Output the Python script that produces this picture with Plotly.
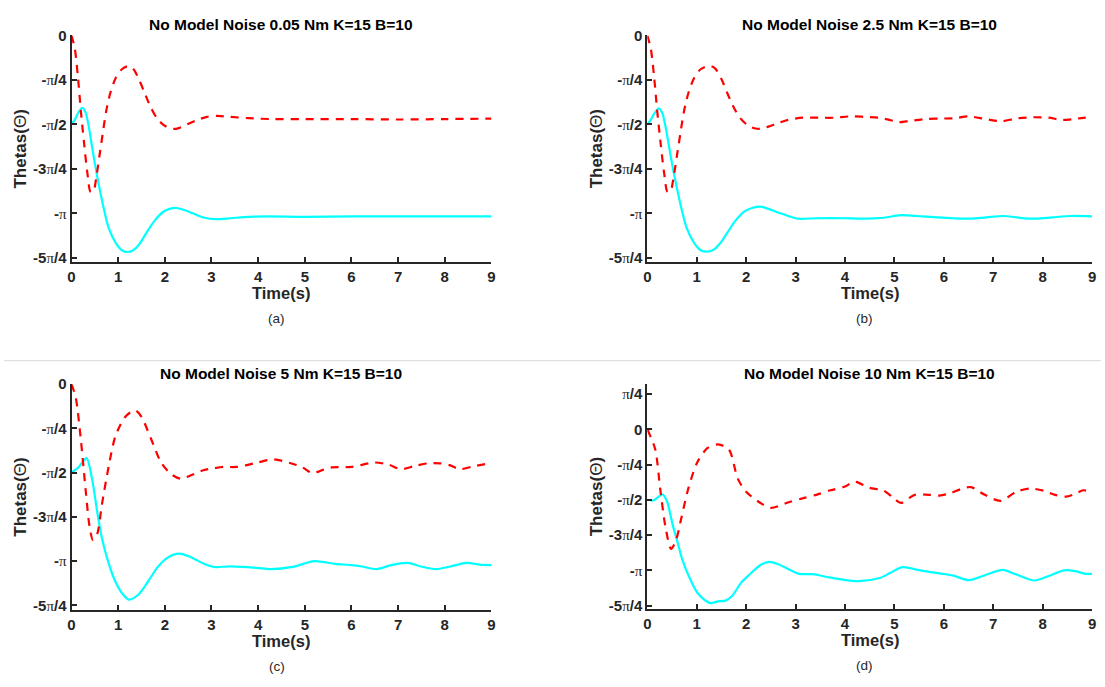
import numpy as np
import plotly.graph_objects as go

W, H = 1105, 687
Q = np.pi / 4  # data below are read in units of pi/4 rad

# ---------------- Panel (a): noise 0.05 Nm ----------------
t_red_a = [0, 0.07, 0.14, 0.2, 0.27, 0.34, 0.41, 0.47, 0.53, 0.6, 0.67, 0.74, 0.83, 0.95, 1.08, 1.22,
           1.33, 1.45, 1.57, 1.7, 1.83, 1.97, 2.1, 2.24, 2.38, 2.52, 2.7, 2.9, 3.12, 3.4, 3.8, 4.3, 5, 6, 7, 8, 9]
q_red_a = [0, -0.29, -0.96, -1.69, -2.43, -3.09, -3.52, -3.5, -3.2, -2.7, -2.2, -1.72, -1.3, -0.95, -0.76, -0.69,
           -0.76, -1.0, -1.3, -1.62, -1.86, -2.01, -2.08, -2.1, -2.05, -1.98, -1.9, -1.83, -1.81, -1.83, -1.86, -1.88,
           -1.88, -1.88, -1.89, -1.88, -1.87]
t_cyan_a = [0, 0.07, 0.14, 0.23, 0.3, 0.37, 0.44, 0.51, 0.58, 0.68, 0.8, 0.95, 1.08, 1.2, 1.32, 1.45, 1.58,
            1.77, 1.96, 2.1, 2.25, 2.4, 2.6, 2.85, 3.1, 3.4, 3.8, 4.2, 5, 6, 7, 8, 9]
q_cyan_a = [-2.0, -1.9, -1.75, -1.63, -1.73, -2.05, -2.5, -2.94, -3.33, -3.84, -4.34, -4.67, -4.83, -4.87, -4.83,
            -4.7, -4.48, -4.18, -3.97, -3.9, -3.88, -3.92, -4.0, -4.1, -4.13, -4.11, -4.08, -4.07, -4.08, -4.07,
            -4.07, -4.07, -4.07]

# ---------------- Panel (b): noise 2.5 Nm ----------------
t_red_b = [0, 0.07, 0.14, 0.2, 0.27, 0.34, 0.41, 0.47, 0.53, 0.6, 0.67, 0.74, 0.83, 0.95, 1.08, 1.25, 1.37, 1.5,
           1.62, 1.75, 1.88, 2.02, 2.15, 2.29, 2.45, 2.65, 2.85, 3.15, 3.48, 3.78, 4.1, 4.38, 4.68, 4.98, 5.1, 5.32,
           5.62, 5.92, 6.22, 6.5, 6.85, 7.17, 7.45, 7.78, 8.12, 8.4, 8.7, 9]
q_red_b = [0, -0.29, -0.96, -1.69, -2.43, -3.09, -3.52, -3.5, -3.2, -2.7, -2.2, -1.72, -1.3, -0.95, -0.76, -0.68,
           -0.74, -0.98, -1.3, -1.62, -1.86, -2.01, -2.08, -2.1, -2.05, -1.97, -1.9, -1.85, -1.85, -1.85, -1.82,
           -1.83, -1.85, -1.92, -1.95, -1.92, -1.88, -1.87, -1.86, -1.82, -1.88, -1.93, -1.87, -1.84, -1.85, -1.9,
           -1.87, -1.83]
t_cyan_b = [0, 0.07, 0.14, 0.23, 0.3, 0.37, 0.44, 0.51, 0.58, 0.68, 0.8, 0.95, 1.08, 1.22, 1.34, 1.47, 1.6, 1.78,
            1.96, 2.12, 2.29, 2.45, 2.65, 2.85, 3.05, 3.45, 3.98, 4.32, 4.79, 5.12, 5.45, 5.86, 6.2, 6.53, 6.86, 7.2,
            7.54, 7.87, 8.2, 8.57, 9]
q_cyan_b = [-2.0, -1.9, -1.76, -1.64, -1.74, -2.06, -2.5, -2.94, -3.33, -3.84, -4.34, -4.67, -4.83, -4.86, -4.82,
            -4.68, -4.47, -4.17, -3.96, -3.88, -3.85, -3.9, -3.98, -4.06, -4.12, -4.11, -4.11, -4.12, -4.1, -4.04,
            -4.06, -4.09, -4.11, -4.12, -4.09, -4.06, -4.1, -4.12, -4.09, -4.06, -4.07]

# ---------------- Panel (c): noise 5 Nm ----------------
t_red_c = [0, 0.09, 0.2, 0.3, 0.39, 0.46, 0.55, 0.65, 0.8, 0.94, 1.15, 1.36, 1.5, 1.71, 1.92, 2.13, 2.35, 2.56,
           2.84, 3.05, 3.26, 3.54, 3.96, 4.32, 4.68, 4.95, 5.16, 5.4, 5.58, 6.0, 6.5, 6.8, 7.06, 7.35, 7.63, 7.9,
           8.1, 8.33, 8.6, 9]
q_red_c = [0, -0.3, -1.25, -2.36, -3.24, -3.52, -3.39, -2.73, -1.84, -1.18, -0.74, -0.59, -0.74, -1.25, -1.77,
           -2.03, -2.14, -2.06, -1.94, -1.9, -1.87, -1.87, -1.78, -1.70, -1.78, -1.88, -2.01, -1.93, -1.88, -1.87,
           -1.77, -1.82, -1.92, -1.85, -1.79, -1.79, -1.83, -1.92, -1.86, -1.78]
t_cyan_c = [0, 0.15, 0.32, 0.44, 0.55, 0.65, 0.8, 0.94, 1.08, 1.23, 1.43, 1.64, 1.85, 2.06, 2.31, 2.56, 2.84,
            3.05, 3.4, 3.96, 4.28, 4.74, 5.2, 5.65, 6.0, 6.22, 6.54, 6.85, 7.2, 7.49, 7.8, 8.12, 8.47, 8.75, 9]
q_cyan_c = [-1.99, -1.88, -1.67, -2.14, -2.88, -3.47, -4.06, -4.46, -4.72, -4.87, -4.76, -4.46, -4.13, -3.92,
            -3.83, -3.91, -4.06, -4.13, -4.12, -4.15, -4.18, -4.13, -4.0, -4.06, -4.09, -4.12, -4.18, -4.09, -4.04,
            -4.12, -4.18, -4.12, -4.04, -4.08, -4.09]

# ---------------- Panel (d): noise 10 Nm ----------------
t_red_d = [0, 0.16, 0.26, 0.37, 0.48, 0.58, 0.69, 0.83, 1.01, 1.22, 1.43, 1.65, 1.83, 2.0, 2.29, 2.5, 2.86, 3.14,
           3.42, 3.71, 3.99, 4.2, 4.49, 4.77, 4.99, 5.13, 5.41, 5.7, 5.91, 6.12, 6.34, 6.55, 6.83, 7.15, 7.47, 7.75,
           8.04, 8.25, 8.47, 8.68, 8.82, 9]
q_red_d = [0, -0.57, -1.68, -2.79, -3.39, -3.15, -2.51, -1.68, -0.94, -0.53, -0.43, -0.57, -1.4, -1.77, -2.09,
           -2.23, -2.07, -1.96, -1.86, -1.73, -1.63, -1.49, -1.66, -1.73, -1.96, -2.09, -1.86, -1.86, -1.88, -1.82,
           -1.7, -1.64, -1.86, -2.03, -1.77, -1.68, -1.75, -1.86, -1.91, -1.82, -1.73, -1.79]
t_cyan_d = [0, 0.12, 0.23, 0.31, 0.4, 0.51, 0.62, 0.72, 0.87, 1.01, 1.15, 1.28, 1.43, 1.58, 1.72, 1.9, 2.07, 2.29,
            2.46, 2.64, 2.86, 3.07, 3.35, 3.64, 3.92, 4.28, 4.7, 4.91, 5.16, 5.48, 5.77, 5.98, 6.19, 6.51, 6.83, 7.19,
            7.47, 7.83, 8.11, 8.43, 8.68, 8.86, 9]
q_cyan_d = [-2.0, -2.02, -1.91, -1.85, -2.05, -2.69, -3.25, -3.75, -4.26, -4.63, -4.83, -4.93, -4.88, -4.86, -4.72,
            -4.35, -4.12, -3.85, -3.76, -3.82, -3.97, -4.1, -4.11, -4.19, -4.26, -4.31, -4.22, -4.08, -3.91, -3.99,
            -4.06, -4.1, -4.15, -4.28, -4.14, -3.99, -4.12, -4.29, -4.17, -4.0, -4.03, -4.1, -4.1]

titles = ["No Model Noise 0.05 Nm K=15 B=10", "No Model Noise 2.5 Nm K=15 B=10",
          "No Model Noise 5 Nm K=15 B=10", "No Model Noise 10 Nm K=15 B=10"]
captions = ["(a)", "(b)", "(c)", "(d)"]
x_ticks = [0, 1, 2, 3, 4, 5, 6, 7, 8, 9]
y_tick_q = [-5, -4, -3, -2, -1, 0, 1]
PI = '<span style="font-family:Liberation Serif;font-weight:normal">π</span>'
y_tick_text = ["<b>-5</b>" + PI + "<b>/4</b>", "<b>-</b>" + PI, "<b>-3</b>" + PI + "<b>/4</b>",
               "<b>-</b>" + PI + "<b>/2</b>", "<b>-</b>" + PI + "<b>/4</b>", "<b>0</b>", PI + "<b>/4</b>"]

panels = [
    (t_red_a, q_red_a, t_cyan_a, q_cyan_a),
    (t_red_b, q_red_b, t_cyan_b, q_cyan_b),
    (t_red_c, q_red_c, t_cyan_c, q_cyan_c),
    (t_red_d, q_red_d, t_cyan_d, q_cyan_d),
]

# layout geometry in pixels: (left, right, top, bottom) of plot area, y range
geom = [
    (68, 491, 27, 258.2, [-4, 0]),
    (648, 1096, 27, 258.2, [-4, 0]),
    (68, 491, 383, 613, [-4, 0]),
    (648, 1096, 383.2, 612.3, [-4, 1]),
]

TXT = "#262626"
fig = go.Figure()
layout = dict(width=W, height=H, margin=dict(l=0, r=0, t=0, b=0), paper_bgcolor="white",
              plot_bgcolor="white", showlegend=False, annotations=[], shapes=[])

for i, ((tr, qr, tc, qc), (l, r, tp, bt, yr), title, cap) in enumerate(zip(panels, geom, titles, captions)):
    n = "" if i == 0 else str(i + 1)
    xa, ya = "x" + n, "y" + n
    fig.add_trace(go.Scatter(x=tc, y=np.array(qc) * Q, mode="lines", xaxis=xa, yaxis=ya,
                             line=dict(color="#00FFFF", width=2.2, shape="spline", smoothing=0.8)))
    fig.add_trace(go.Scatter(x=tr, y=np.array(qr) * Q, mode="lines", xaxis=xa, yaxis=ya,
                             line=dict(color="#FF0000", width=2.2, dash="8px,7px", shape="spline", smoothing=0.8)))
    ticks = [k for k in y_tick_q if yr[0] <= k * Q <= yr[1]]
    ttext = [y_tick_text[y_tick_q.index(k)] for k in ticks]
    axis_common = dict(showgrid=False, zeroline=False, showline=True, linecolor=TXT, linewidth=2,
                       ticks="inside", ticklen=5, tickwidth=1.5, tickcolor=TXT,
                       tickfont=dict(family="Arial", size=15, color=TXT))
    layout["xaxis" + n] = dict(axis_common, domain=[l / W, r / W], range=[0, 9], anchor=ya,
                               tickvals=x_ticks, ticktext=["<b>%d</b>" % v for v in x_ticks])
    layout["yaxis" + n] = dict(axis_common, domain=[1 - bt / H, 1 - tp / H], range=yr, anchor=xa,
                               tickvals=[k * Q for k in ticks], ticktext=ttext)
    cx = (l + r) / 2
    cy = (tp + bt) / 2
    ann = layout["annotations"]
    ann.append(dict(text="<b>" + title + "</b>", x=cx / W, y=1 - (tp - 11) / H, xref="paper", yref="paper",
                    showarrow=False, xanchor="center", yanchor="middle",
                    font=dict(family="Arial", size=15.5, color="black")))
    ann.append(dict(text="<b>Time(s)</b>", x=cx / W, y=1 - (bt + 32) / H, xref="paper", yref="paper",
                    showarrow=False, xanchor="center", yanchor="middle",
                    font=dict(family="Arial", size=16.5, color=TXT)))
    ann.append(dict(text=cap, x=(cx - 5) / W, y=1 - (bt + 58) / H, xref="paper", yref="paper",
                    showarrow=False, xanchor="center", yanchor="middle",
                    font=dict(family="Arial", size=13.5, color=TXT)))
    ann.append(dict(text="<b>Thetas(</b>Θ<b>)</b>", x=(l - 51) / W, y=1 - cy / H, xref="paper", yref="paper",
                    showarrow=False, xanchor="center", yanchor="middle", textangle=-90,
                    font=dict(family="Arial", size=17, color=TXT)))

layout["shapes"].append(dict(type="line", xref="paper", yref="paper", x0=0, x1=1,
                             y0=1 - 359 / H, y1=1 - 359 / H, line=dict(color="#d9d9d9", width=1)))

fig.update_layout(**layout)
fig.write_html("out.html")
